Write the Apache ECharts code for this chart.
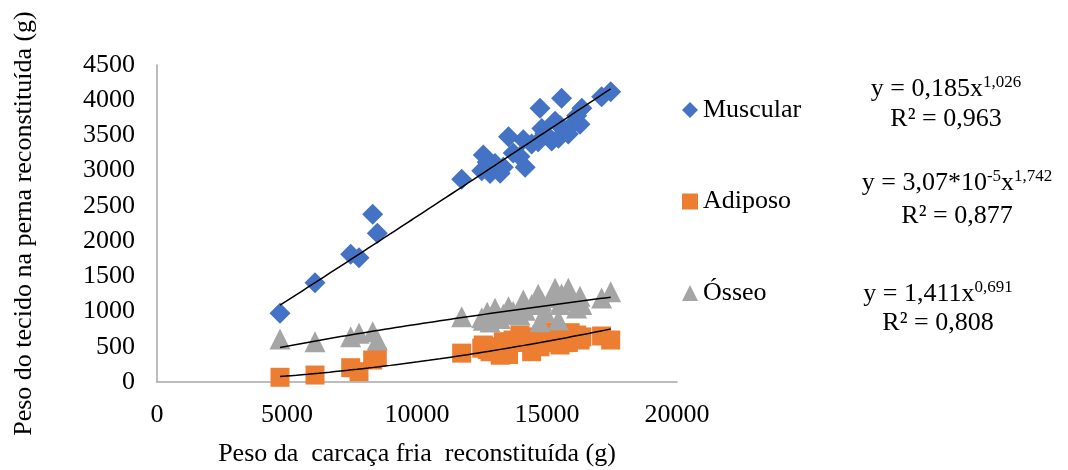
<!DOCTYPE html>
<html>
<head>
<meta charset="utf-8">
<script src="https://cdn.jsdelivr.net/npm/echarts@6/dist/echarts.min.js"></script>
<style>
html,body{margin:0;padding:0;background:#fff;}
#c{width:1068px;height:470px;}
</style>
</head>
<body>
<div id="c"></div>
<script>
const seriesNames = ['Muscular', 'Adiposo', 'Ósseo'];
const carcassWeight = [4731, 6077, 7450, 7769, 8296, 8473, 11718, 12490, 12550, 12700, 12810, 13000, 13200, 13320, 13520, 13700, 13960, 14090, 14160, 14410, 14660, 14730, 14800, 14920, 15180, 15310, 15440, 15500, 15560, 15820, 15890, 16140, 16270, 16340, 17100, 17450];
const muscular = [975, 1410, 1813, 1765, 2381, 2111, 2878, 3000, 3223, 3120, 2960, 3100, 2963, 3050, 3483, 3250, 3200, 3440, 3050, 3380, 3411, 3886, 3600, 3531, 3420, 3700, 3459, 3640, 4027, 3520, 3624, 3780, 3660, 3886, 4050, 4121];
const adiposo = [67, 99, 203, 146, 312, 351, 410, 480, 525, 460, 430, 500, 380, 572, 390, 596, 667, 640, 560, 430, 610, 500, 667, 620, 714, 560, 600, 525, 650, 560, 700, 667, 596, 640, 653, 596];
const osseo = [610, 572, 643, 691, 714, 596, 927, 913, 876, 989, 850, 1046, 900, 960, 1069, 1000, 950, 1164, 1020, 1100, 1245, 856, 1150, 1000, 1200, 1330, 880, 1100, 1250, 1330, 1150, 1050, 1217, 1100, 1192, 1282];
// power trendlines y = a * x^b (coefficients printed on the chart)
const trendA = [0.185, 3.07e-5, 1.411];
const trendB = [1.026, 1.742, 0.691];
const equations = [
  ['{n|y = 0,185x}{s|1,026}', '{n|R² = 0,963}'],
  ['{n|y = 3,07*10}{s|-5}{n|x}{s|1,742}', '{n|R² = 0,877}'],
  ['{n|y = 1,411x}{s|0,691}', '{n|R² = 0,808}']
];
const xAxisTitle = 'Peso da  carcaça fria  reconstituída (g)';
const yAxisTitle = 'Peso do tecido na perna reconstituída (g)';

const FONT = '"Liberation Serif", "Times New Roman", serif';
const colors = ['#4472C4', '#ED7D31', '#A5A5A5'];
const symbols = ['diamond', 'rect', 'triangle'];
const symbolSizes = [21, 19, 21];
const valueSets = [muscular, adiposo, osseo];

const xmin = Math.min(...carcassWeight), xmax = Math.max(...carcassWeight);
function trend(i) {
  const pts = [];
  const n = 60;
  for (let k = 0; k <= n; k++) {
    const x = xmin + (xmax - xmin) * k / n;
    pts.push([x, trendA[i] * Math.pow(x, trendB[i])]);
  }
  return pts;
}

const series = [];
for (let i = 0; i < 3; i++) {
  series.push({
    name: seriesNames[i], type: 'scatter', symbol: symbols[i], symbolSize: symbolSizes[i],
    itemStyle: { color: colors[i], opacity: 1 },
    data: carcassWeight.map((x, j) => [x, valueSets[i][j]]),
    z: 2
  });
}
for (let i = 0; i < 3; i++) {
  series.push({
    name: 'trend' + i, type: 'line', showSymbol: false, silent: true,
    lineStyle: { color: '#000', width: 1.5 }, data: trend(i), z: 5
  });
}

const rich = {
  n: { fontFamily: FONT, fontSize: 26, lineHeight: 30, color: '#000' },
  s: { fontFamily: FONT, fontSize: 17, lineHeight: 17, color: '#000', verticalAlign: 'top' }
};
const eqPos = [[946, 89, 119], [957, 183, 216], [938, 294, 323]];
const graphic = [];
for (let i = 0; i < 3; i++) {
  for (let l = 0; l < 2; l++) {
    graphic.push({
      type: 'text', x: eqPos[i][0], y: eqPos[i][1 + l],
      style: { text: equations[i][l], rich: rich, align: 'center', verticalAlign: 'middle', font: '26px ' + FONT, fill: '#000' }
    });
  }
}

const chart = echarts.init(document.getElementById('c'));
chart.setOption({
  animation: false,
  backgroundColor: '#fff',
  grid: { left: 157, right: 391, top: 65, bottom: 88, containLabel: false, outerBoundsMode: 'none' },
  xAxis: {
    type: 'value', min: 0, max: 20000, interval: 5000,
    name: xAxisTitle, nameLocation: 'middle', nameGap: 59,
    nameTextStyle: { fontFamily: FONT, fontSize: 26, color: '#000' },
    axisLine: { show: true, lineStyle: { color: '#A6A6A6', width: 1.5 } },
    axisTick: { show: false }, splitLine: { show: false },
    axisLabel: { fontFamily: FONT, fontSize: 26, color: '#000', margin: 20, formatter: v => String(v) }
  },
  yAxis: {
    type: 'value', min: 0, max: 4500, interval: 500,
    name: yAxisTitle, nameLocation: 'middle', nameGap: 120, nameRotate: 90,
    nameTextStyle: { fontFamily: FONT, fontSize: 26, color: '#000' },
    axisLine: { show: true, lineStyle: { color: '#A6A6A6', width: 1.5 } },
    axisTick: { show: false }, splitLine: { show: false },
    axisLabel: { fontFamily: FONT, fontSize: 26, color: '#000', margin: 22, formatter: v => String(v) }
  },
  legend: {
    orient: 'vertical', left: 677, top: 90, itemWidth: 16, itemHeight: 16, itemGap: 61.5,
    data: seriesNames,
    textStyle: { fontFamily: FONT, fontSize: 26, color: '#000', lineHeight: 30 }
  },
  graphic: graphic,
  series: series
});
</script>
</body>
</html>
